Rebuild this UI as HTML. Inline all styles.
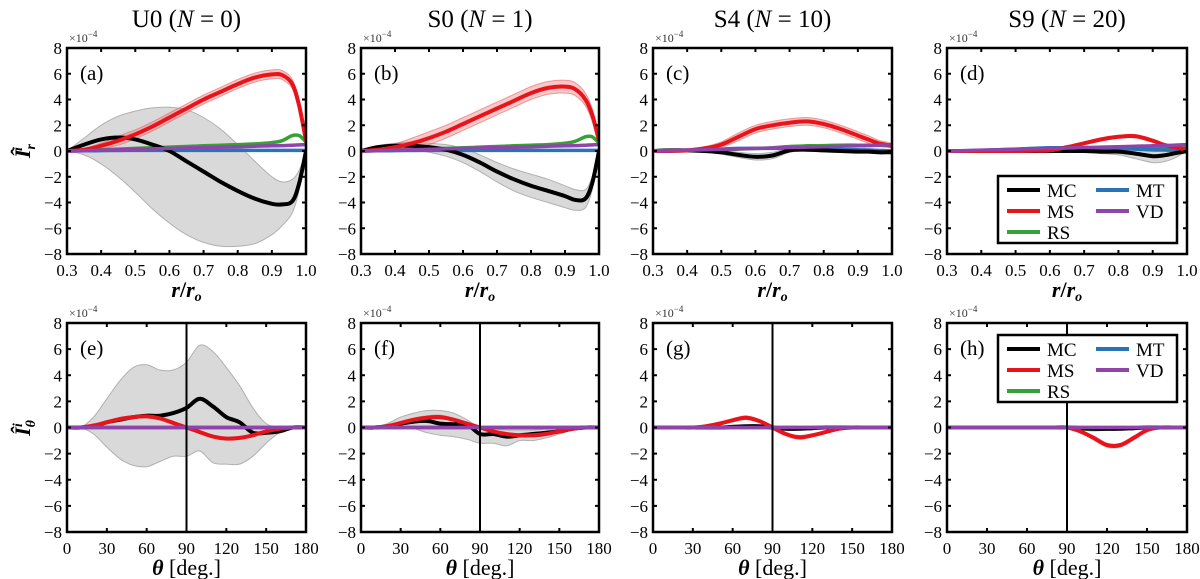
<!DOCTYPE html>
<html><head><meta charset="utf-8">
<style>
body{margin:0;background:#fff;}
svg{display:block;font-family:"Liberation Serif","DejaVu Serif",serif;}
</style></head>
<body>
<svg id="fig" width="1200" height="579" viewBox="0 0 1200 579" font-family="'Liberation Serif', 'DejaVu Serif', serif" xmlns="http://www.w3.org/2000/svg"></svg>
<script>
// ---- data ----
const rX = [0.3,0.35,0.4,0.45,0.5,0.55,0.6,0.65,0.7,0.75,0.8,0.85,0.9,0.93,0.96,0.98,1.0];
const thX = [0,10,20,30,40,50,60,70,80,90,100,110,120,130,140,150,160,170,180];
const rTicks = ["0.3","0.4","0.5","0.6","0.7","0.8","0.9","1.0"];
const thTicks = ["0","30","60","90","120","150","180"];
const yTicks = [8,6,4,2,0,-2,-4,-6,-8];
const titles = ["U0 (", "S0 (", "S4 (", "S9 ("];
const titleN = ["0","1","10","20"];

// panel a
const aMC   = [0,0.5,0.9,1.05,0.9,0.5,0,-0.8,-1.6,-2.4,-3.1,-3.7,-4.1,-4.15,-3.9,-2.5,0];
const aMCLo = [0,-0.3,-1,-2,-3.2,-4.5,-5.6,-6.5,-7.1,-7.4,-7.4,-7.2,-6.5,-5.8,-4.8,-3.0,0];
const aMCHi = [0,1,2,2.7,3.1,3.35,3.4,3.2,2.6,1.7,0.5,-0.8,-2,-2.4,-2.2,-1.5,0];
const aMS   = [0,0.1,0.4,0.8,1.3,1.9,2.6,3.3,4.0,4.6,5.2,5.7,5.95,5.9,5.2,3.5,0.8];
const aRS   = [0,0.05,0.1,0.15,0.2,0.25,0.3,0.35,0.4,0.45,0.5,0.55,0.65,0.8,1.2,1.2,0.7];
const aMT   = [0,0.02,0.03,0.04,0.05,0.05,0.05,0.05,0.05,0.05,0.05,0.05,0.05,0.05,0.05,0.05,0.05];
const aVD   = [0,0.03,0.07,0.1,0.13,0.17,0.2,0.23,0.27,0.3,0.33,0.37,0.4,0.42,0.45,0.47,0.5];
// panel b
const bMC   = [0,0.3,0.4,0.4,0.3,0.1,-0.3,-0.9,-1.6,-2.2,-2.7,-3.1,-3.5,-3.8,-3.7,-2.5,0];
const bMCLo = [0,0.1,0.2,0.1,-0.1,-0.4,-0.9,-1.6,-2.4,-3.1,-3.6,-4.0,-4.4,-4.6,-4.4,-3.0,0];
const bMCHi = [0,0.4,0.6,0.7,0.6,0.5,0.2,-0.3,-0.9,-1.4,-1.8,-2.2,-2.7,-3.0,-3.0,-2.0,0];
const bMS   = [0,0.1,0.3,0.6,1.0,1.5,2.1,2.7,3.3,3.9,4.5,4.9,5.0,4.8,4.0,2.8,0.8];
const bRS   = [0,0.04,0.08,0.12,0.16,0.2,0.25,0.3,0.35,0.4,0.45,0.5,0.6,0.75,1.1,1.1,0.6];
const bMT   = aMT;
const bVD   = aVD;
// panel c
const cMC   = [0,0.05,0.05,0,-0.1,-0.3,-0.45,-0.35,0.05,0.1,0.05,0,-0.05,-0.05,-0.1,-0.1,-0.1];
const cMCLo = [0,0,0,-0.1,-0.25,-0.5,-0.7,-0.6,-0.1,0,-0.05,-0.1,-0.15,-0.15,-0.2,-0.2,-0.2];
const cMCHi = [0,0.1,0.1,0.1,0.05,-0.1,-0.2,-0.1,0.2,0.2,0.15,0.1,0.05,0.05,0,0,0];
const cMS   = [0,0,0.05,0.2,0.5,1.1,1.7,2.0,2.2,2.3,2.1,1.7,1.2,0.9,0.6,0.5,0.4];
const cRS   = [0,0.02,0.05,0.08,0.1,0.15,0.2,0.25,0.35,0.4,0.42,0.45,0.45,0.45,0.45,0.45,0.45];
const cMT   = [0,0.02,0.05,0.1,0.15,0.2,0.2,0.2,0.2,0.18,0.15,0.12,0.1,0.08,0.05,0.03,0];
const cVD   = aVD;
// panel d
const dMC   = [0,0,0,0,0,0,0,0,0,-0.05,-0.05,-0.2,-0.4,-0.35,-0.2,-0.1,0];
const dMCLo = [0,0,0,0,0,0,0,-0.05,-0.1,-0.2,-0.3,-0.6,-0.9,-0.85,-0.6,-0.3,0];
const dMCHi = [0,0,0,0,0,0,0,0.05,0.05,0.05,0.1,0.05,-0.05,0,0.1,0.1,0];
const dMS   = [0,0,0,0,0,0.02,0.05,0.3,0.6,0.9,1.1,1.15,0.8,0.5,0.3,0.2,0.1];
const dRS   = [0,0.02,0.04,0.06,0.08,0.1,0.12,0.14,0.16,0.18,0.2,0.22,0.24,0.26,0.28,0.3,0.3];
const dMT   = [0,0.02,0.05,0.1,0.15,0.2,0.25,0.25,0.25,0.22,0.2,0.15,0.1,0.08,0.05,0.03,0];
const dVD   = aVD;
// panel e
const eMC   = [0,0,0.1,0.4,0.6,0.8,0.9,0.9,1.1,1.5,2.2,1.6,0.8,0.4,-0.4,-0.4,-0.3,0,0];
const eMCHi = [0,0,0.8,2.2,3.6,4.6,4.8,4.4,4.4,5.0,6.3,5.8,4.6,3.2,1.5,0.3,0,0,0];
const eMCLo = [0,0,-0.5,-1.5,-2.4,-2.9,-3.0,-2.6,-2.2,-2.2,-1.8,-2.7,-2.8,-2.8,-2.2,-1.2,-0.4,0,0];
const eMS   = [0,0,0.15,0.4,0.65,0.8,0.85,0.7,0.35,0,-0.35,-0.7,-0.85,-0.8,-0.6,-0.3,-0.1,0,0];
// panel f
const fMC   = [0,0,0.1,0.3,0.45,0.5,0.3,0.25,0.25,-0.5,-0.5,-0.7,-0.6,-0.5,-0.4,-0.3,-0.1,0,0];
const fMCHi = [0,0,0.3,0.8,1.1,1.3,1.3,1.1,0.6,0,-0.1,-0.2,-0.2,-0.2,-0.1,0,0,0,0];
const fMCLo = [0,0,-0.1,-0.1,-0.1,-0.4,-0.6,-0.7,-0.9,-1.2,-1.2,-1.4,-1.0,-1.0,-0.8,-0.5,-0.2,0,0];
const fMS   = [0,0,0.1,0.35,0.6,0.75,0.8,0.6,0.3,0,-0.3,-0.5,-0.6,-0.6,-0.5,-0.3,-0.1,0,0];
// panel g
const gMC   = [0,0,0,0,0,0,0.05,0.1,0.1,0,-0.1,-0.1,-0.05,0,0,0,0,0,0];
const gMS   = [0,0,0,0,0.1,0.3,0.55,0.75,0.5,0,-0.5,-0.75,-0.6,-0.35,-0.1,0,0,0,0];
// panel h
const hMC   = [0,0,0,0,0,0,0,0,0,0,-0.05,-0.1,-0.1,-0.1,-0.05,0,0,0,0];
const hMS   = [0,0,0,0,0,0,0,0,0,0,-0.3,-0.8,-1.35,-1.35,-0.8,-0.2,0,0,0];
const hRS   = [0,0,0,0,0,0,0,0,0,0,-0.1,-0.15,-0.12,-0.08,-0.03,0,0,0,0];
const zeroT = thX.map(()=>0);
const msErr = [0.35,0.5,0.3,0.12,0.05,0.15,0.15,0.15];

// ---- drawing ----
const svg = document.getElementById('fig');
const NS = 'http://www.w3.org/2000/svg';
function el(tag, attrs, parent){
  const e = document.createElementNS(NS, tag);
  for (const k in attrs) e.setAttribute(k, attrs[k]);
  (parent||svg).appendChild(e);
  return e;
}
const colsX = [[67,306],[361,599],[653,892],[947,1187]];
const rowsY = [[48,254],[323,532]];
const C = {MC:'#000000',MS:'#e8141c',RS:'#36a135',MT:'#2a73b8',VD:'#8e44a8'};

function pathD(pts){
  let d = 'M'+pts[0][0].toFixed(1)+','+pts[0][1].toFixed(1);
  for (let i=0;i<pts.length-1;i++){
    const p0=pts[Math.max(0,i-1)], p1=pts[i], p2=pts[i+1], p3=pts[Math.min(pts.length-1,i+2)];
    const c1=[p1[0]+(p2[0]-p0[0])/6, p1[1]+(p2[1]-p0[1])/6];
    const c2=[p2[0]-(p3[0]-p1[0])/6, p2[1]-(p3[1]-p1[1])/6];
    d += ' C'+c1[0].toFixed(1)+','+c1[1].toFixed(1)+' '+c2[0].toFixed(1)+','+c2[1].toFixed(1)+' '+p2[0].toFixed(1)+','+p2[1].toFixed(1);
  }
  return d;
}

function panel(idx, row, col, xs, xmin, xmax, xticks, series, letter, legend){
  const [x0,x1]=colsX[col], [y0,y1]=rowsY[row];
  const sx = v => x0 + (v-xmin)/(xmax-xmin)*(x1-x0);
  const sy = v => y1 - (v+8)/16*(y1-y0);
  const g = el('g',{});
  
  
  const clipId = 'clip'+letter;
  const cp = el('clipPath',{id:clipId}, g);
  el('rect',{x:x0,y:y0,width:x1-x0,height:y1-y0}, cp);
  const plot = el('g',{'clip-path':'url(#'+clipId+')'}, g);
  const band = (lo,hi,fill,stroke,name)=>{
    const top = xs.map((x,i)=>[sx(x),sy(hi[i])]);
    const bot = xs.map((x,i)=>[sx(x),sy(lo[i])]).reverse();
    const d = pathD(top)+' L'+pathD(bot).slice(1)+' Z';
    const p = el('path',{d:d,fill:fill,stroke:stroke,'stroke-width':1}, plot);
    
    
  };
  if (series.mcLo) band(series.mcLo, series.mcHi, '#d9d9d9', '#b0b0b0', 'mc-band');
  const e = msErr[idx];
  band(series.MS.map(v=>v-e*Math.min(1,Math.abs(v)+0.2)), series.MS.map(v=>v+e*Math.min(1,Math.abs(v)+0.2)), 'rgba(240,130,130,0.45)', 'rgba(230,100,100,0.6)', 'ms-band');
  const line = (vals,color,w,name)=>{
    const p = el('path',{d:pathD(xs.map((x,i)=>[sx(x),sy(vals[i])])),fill:'none',stroke:color,'stroke-width':w,'stroke-linejoin':'round'}, plot);
    
    
  };
  line(series.RS, C.RS, 3.5, 'rs-line');
  line(series.MT, C.MT, 3.5, 'mt-line');
  line(series.MC, C.MC, 4, 'mc-line');
  line(series.MS, C.MS, 4, 'ms-line');
  line(series.VD, C.VD, 3.5, 'vd-line');
  if (row===1){
    const vl = el('line',{x1:sx(90),x2:sx(90),y1:y0,y2:y1,stroke:'#000','stroke-width':2}, g);
    
    
  }
  el('rect',{x:x0,y:y0,width:x1-x0,height:y1-y0,fill:'none',stroke:'#000','stroke-width':2.5}, g);
  yTicks.forEach(v=>{
    const y=sy(v);
    el('line',{x1:x0,x2:x0+4,y1:y,y2:y,stroke:'#000','stroke-width':2}, g);
    el('line',{x1:x1,x2:x1-4,y1:y,y2:y,stroke:'#000','stroke-width':2}, g);
    const t = el('text',{x:x0-5,y:y+6,'text-anchor':'end','font-size':17}, g);
    t.textContent = v<0 ? '\u2212'+Math.abs(v) : String(v);
    
    
  });
  xticks.forEach(s=>{
    const x=sx(parseFloat(s));
    el('line',{x1:x,x2:x,y1:y1,y2:y1-4,stroke:'#000','stroke-width':2}, g);
    el('line',{x1:x,x2:x,y1:y0,y2:y0+4,stroke:'#000','stroke-width':2}, g);
    const t = el('text',{x:x,y:y1+22,'text-anchor':'middle','font-size':17}, g);
    t.textContent = s;
    
    
  });
  const mult = el('text',{x:x0+2,y:y0-6,'font-size':12,fill:'#333'}, g);
  mult.innerHTML = '\u00d710<tspan dy="-5" font-size="9">\u22124</tspan>';
  
  
  const lt = el('text',{x:x0+13,y:y0+32,'font-size':21}, g);
  lt.textContent = '('+letter+')';
  
  
  const xl = el('text',{x:(x0+x1)/2,y:y1+43,'text-anchor':'middle','font-size':22,'font-style':'italic','font-weight':'bold'}, g);
  if (row===0){ xl.innerHTML = 'r<tspan font-style="normal">/</tspan>r<tspan font-size="14" dy="4">o</tspan>'; }
  else { xl.innerHTML = '\u03b8 <tspan font-style="normal" font-weight="normal">[deg.]</tspan>'; }
  
  
  if (legend){
    const lx=legend[0], ly=legend[1];
    const lg = el('g',{}, g);
    
    
    el('rect',{x:lx,y:ly,width:179,height:67,fill:'#fff',stroke:'#000','stroke-width':2.5}, lg);
    const items=[['MC',0,0],['MS',0,1],['RS',0,2],['MT',1,0],['VD',1,1]];
    items.forEach(([n,c,r])=>{
      const ex = lx+9+c*89, ey = ly+14+r*21;
      const it = el('g',{}, lg);
      
      
      el('line',{x1:ex,x2:ex+33,y1:ey,y2:ey,stroke:C[n],'stroke-width':4}, it);
      const t=el('text',{x:ex+40,y:ey+7,'font-size':19}, it);
      t.textContent=n;
    });
  }
}

titles.forEach((t,i)=>{
  const [x0,x1]=colsX[i];
  const tx = el('text',{x:(x0+x1)/2,y:27,'text-anchor':'middle','font-size':25});
  tx.innerHTML = t+'<tspan font-style="italic">N</tspan> = '+titleN[i]+')';
  
  
});
[['r',151],['\u03b8',428]].forEach(([s,y],i)=>{
  const t = el('text',{x:0,y:0,'text-anchor':'middle','font-size':22,'font-style':'italic','font-weight':'bold',transform:'translate(30,'+y+') rotate(-90)'});
  t.innerHTML = '\u00ce<tspan font-size="14" dy="5">'+s+'</tspan><tspan font-size="14" dy="-13" dx="-7">i</tspan>';
  
  
});

panel(0,0,0,rX,0.3,1.0,rTicks,{MC:aMC,mcLo:aMCLo,mcHi:aMCHi,MS:aMS,RS:aRS,MT:aMT,VD:aVD},'a');
panel(1,0,1,rX,0.3,1.0,rTicks,{MC:bMC,mcLo:bMCLo,mcHi:bMCHi,MS:bMS,RS:bRS,MT:bMT,VD:bVD},'b');
panel(2,0,2,rX,0.3,1.0,rTicks,{MC:cMC,mcLo:cMCLo,mcHi:cMCHi,MS:cMS,RS:cRS,MT:cMT,VD:cVD},'c');
panel(3,0,3,rX,0.3,1.0,rTicks,{MC:dMC,mcLo:dMCLo,mcHi:dMCHi,MS:dMS,RS:dRS,MT:dMT,VD:dVD},'d',[998,176]);
panel(4,1,0,thX,0,180,thTicks,{MC:eMC,mcLo:eMCLo,mcHi:eMCHi,MS:eMS,RS:zeroT,MT:zeroT,VD:zeroT},'e');
panel(5,1,1,thX,0,180,thTicks,{MC:fMC,mcLo:fMCLo,mcHi:fMCHi,MS:fMS,RS:zeroT,MT:zeroT,VD:zeroT},'f');
panel(6,1,2,thX,0,180,thTicks,{MC:gMC,MS:gMS,RS:zeroT,MT:zeroT,VD:zeroT},'g');
panel(7,1,3,thX,0,180,thTicks,{MC:hMC,MS:hMS,RS:hRS,MT:zeroT,VD:zeroT},'h',[998,335]);
</script>
</body></html>
